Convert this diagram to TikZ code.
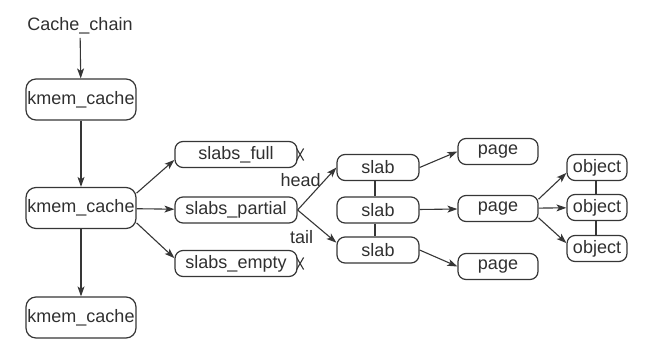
\documentclass[tikz,border=0pt]{standalone}
\usepackage{fontspec}
\setmainfont{Liberation Sans}
\usetikzlibrary{arrows.meta}
\definecolor{ln}{HTML}{363636}
\definecolor{tx}{HTML}{303030}
\begin{document}
\begin{tikzpicture}[x=1pt,y=-1pt,
  font=\fontsize{18}{21}\selectfont, text=tx,
  bigbox/.style={draw=ln, line width=1.2pt, rounded corners=10pt, minimum width=110pt, minimum height=41pt, inner sep=0pt},
  smallbox/.style={draw=ln, line width=1.2pt, rounded corners=8pt, minimum height=26pt, inner sep=0pt},
  conn/.style={draw=ln, line width=1.1pt, -{Stealth[length=10pt,width=7pt,inset=2.5pt]}},
  link/.style={draw=ln, line width=1.1pt},
  endmark/.style={draw=ln, line width=1.1pt}
]
\useasboundingbox (0,0) rectangle (652,359);

\node (cc) at (80,26) {Cache\_chain};
\node[bigbox] (k1) at (81,99.5) {kmem\_cache};
\node[bigbox] (k2) at (81,208) {kmem\_cache};
\node[bigbox] (k3) at (81,317.5) {kmem\_cache};

\node[smallbox, minimum width=122pt] (sf) at (236,154.5) {slabs\_full};
\node[smallbox, minimum width=122pt] (sp) at (236,210) {slabs\_partial};
\node[smallbox, minimum width=122pt] (se) at (236,263.5) {slabs\_empty};

\node[smallbox, minimum width=82pt] (s1) at (378,167.5) {slab};
\node[smallbox, minimum width=82pt] (s2) at (378,210) {slab};
\node[smallbox, minimum width=82pt] (s3) at (378,250) {slab};

\node[smallbox, minimum width=80pt] (p1) at (498,151.5) {page};
\node[smallbox, minimum width=80pt] (p2) at (498,208.5) {page};
\node[smallbox, minimum width=80pt] (p3) at (498,266.5) {page};

\node[smallbox, minimum width=60pt] (o1) at (597,167.5) {object};
\node[smallbox, minimum width=60pt] (o2) at (597,207.5) {object};
\node[smallbox, minimum width=60pt] (o3) at (597,248.5) {object};

% vertical chain
\draw[conn] (cc) -- (k1);
\draw[conn] (k1) -- (k2);
\draw[conn] (k2) -- (k3);

% kmem_cache to slab lists
\draw[conn] (k2.15) -- (sf.185);
\draw[conn] (k2) -- (sp);
\draw[conn] (k2.-15) -- (se.175);

% null markers
\coordinate (xf) at ([xshift=2pt]sf.east);
\coordinate (xe) at ([xshift=2pt]se.east);
\draw[endmark] ([shift={(-3,-6)}]xf) -- ([shift={(4,6)}]xf) ([shift={(4,-6)}]xf) -- ([shift={(-3,6)}]xf);
\draw[endmark] ([shift={(-3,-6)}]xe) -- ([shift={(4,6)}]xe) ([shift={(4,-6)}]xe) -- ([shift={(-3,6)}]xe);

% partial to slabs
\draw[conn] (sp.east) -- node[pos=0, xshift=3pt, yshift=30pt] {head} (s1.west);
\draw[conn] (sp.east) -- node[pos=0, xshift=4pt, yshift=-27pt] {tail} (s3.170);

% slab chain
\draw[link] ([xshift=-3pt]s1.south) -- ([xshift=-3pt]s2.north);
\draw[link] ([xshift=-3pt]s2.south) -- ([xshift=-3pt]s3.north);

% slabs to pages
\draw[conn] (s1.east) -- (p1.west);
\draw[conn] (s2) -- (p2);
\draw[conn] (s3.east) -- (p3.west);

% page to objects
\draw[conn] (p2.13) -- (o1.190);
\draw[conn] (p2) -- (o2);
\draw[conn] (p2.-13) -- (o3.170);

% object chain
\draw[link] ([xshift=-1pt]o1.south) -- ([xshift=-1pt]o2.north);
\draw[link] ([xshift=-1pt]o2.south) -- ([xshift=-1pt]o3.north);
\end{tikzpicture}
\end{document}
